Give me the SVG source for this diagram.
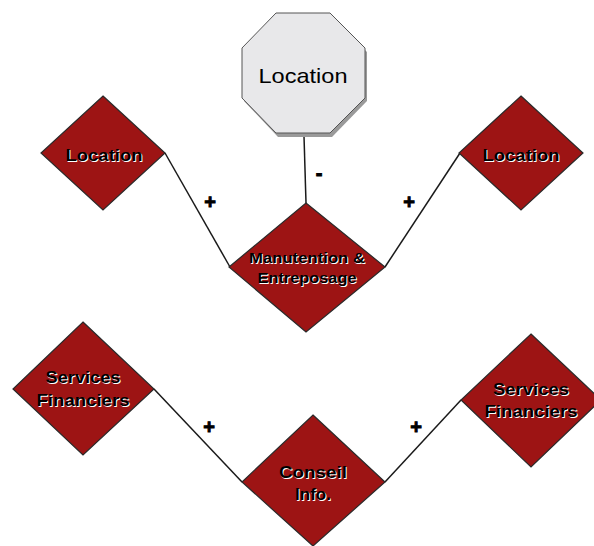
<svg xmlns="http://www.w3.org/2000/svg" width="594" height="546" viewBox="0 0 594 546">
<style>
.d{fill:#9d1414;stroke:#2a2a2a;stroke-width:1.2}
.t{font-family:"Liberation Sans",Arial,sans-serif;font-weight:bold;text-anchor:middle}
.tb{fill:#000}
.tw{fill:#fff}
.c{stroke:#1a1a1a;stroke-width:1.5;fill:none}
.s{font-family:"Liberation Sans",Arial,sans-serif;font-weight:bold;font-size:20px;text-anchor:middle;fill:#000;stroke:#000;stroke-width:0.9}
</style>
<rect width="594" height="546" fill="#fff"/>
<g id="connectors">
<line class="c" x1="165" y1="153" x2="230" y2="267"/>
<line class="c" x1="460" y1="153" x2="385" y2="267"/>
<line class="c" x1="304" y1="136" x2="306" y2="203"/>
<line class="c" x1="154" y1="389" x2="242" y2="482"/>
<line class="c" x1="461" y1="400" x2="385" y2="482"/>
<text class="s" x="210" y="209">+</text>
<text class="s" x="319" y="180">-</text>
<text class="s" x="409" y="209">+</text>
<text class="s" x="209" y="434">+</text>
<text class="s" x="416" y="434">+</text>
</g>
<g id="loc-top">
<polygon points="278,17 332,17 367,52 367,101 332,137 278,137 244,101 244,52" fill="#9a9a9a"/>
<polygon points="276,13 330,13 365,48 365,98 330,133 276,133 242,98 242,48" fill="#e8e8ea" stroke="#555" stroke-width="1"/>
<text x="303" y="83" font-family="Liberation Sans, Arial, sans-serif" font-size="21" text-anchor="middle" fill="#000" textLength="89" lengthAdjust="spacingAndGlyphs">Location</text>
</g>
<g id="loc-left">
<polygon class="d" points="103,96 165,153 103,210 41,153"/>
<text class="t tw" font-size="17" x="105" y="162" textLength="77" lengthAdjust="spacingAndGlyphs">Location</text>
<text class="t tb" font-size="17" x="104" y="161" textLength="77" lengthAdjust="spacingAndGlyphs">Location</text>
</g>
<g id="loc-right">
<polygon class="d" points="521,96 583,153 521,210 459,153"/>
<text class="t tw" font-size="17" x="522" y="162" textLength="77" lengthAdjust="spacingAndGlyphs">Location</text>
<text class="t tb" font-size="17" x="521" y="161" textLength="77" lengthAdjust="spacingAndGlyphs">Location</text>
</g>
<g id="manutention">
<polygon class="d" points="306,203 385,267 306,332 229,267"/>
<text class="t tw" font-size="15" x="308" y="264" textLength="116" lengthAdjust="spacingAndGlyphs">Manutention &amp;</text>
<text class="t tb" font-size="15" x="307" y="263" textLength="116" lengthAdjust="spacingAndGlyphs">Manutention &amp;</text>
<text class="t tw" font-size="15" x="308" y="284" textLength="99" lengthAdjust="spacingAndGlyphs">Entreposage</text>
<text class="t tb" font-size="15" x="307" y="283" textLength="99" lengthAdjust="spacingAndGlyphs">Entreposage</text>
</g>
<g id="sf-left">
<polygon class="d" points="83,322 154,389 83,455 13,389"/>
<text class="t tw" font-size="16.5" x="84" y="384" textLength="75" lengthAdjust="spacingAndGlyphs">Services</text>
<text class="t tb" font-size="16.5" x="83" y="383" textLength="75" lengthAdjust="spacingAndGlyphs">Services</text>
<text class="t tw" font-size="16.5" x="84" y="407" textLength="93" lengthAdjust="spacingAndGlyphs">Financiers</text>
<text class="t tb" font-size="16.5" x="83" y="406" textLength="93" lengthAdjust="spacingAndGlyphs">Financiers</text>
</g>
<g id="sf-right">
<polygon class="d" points="531,334 601,400 531,467 461,400"/>
<text class="t tw" font-size="16.5" x="532" y="396" textLength="76" lengthAdjust="spacingAndGlyphs">Services</text>
<text class="t tb" font-size="16.5" x="531" y="395" textLength="76" lengthAdjust="spacingAndGlyphs">Services</text>
<text class="t tw" font-size="16.5" x="532" y="418" textLength="93" lengthAdjust="spacingAndGlyphs">Financiers</text>
<text class="t tb" font-size="16.5" x="531" y="417" textLength="93" lengthAdjust="spacingAndGlyphs">Financiers</text>
</g>
<g id="conseil">
<polygon class="d" points="313,415 385,482 313,546 242,482"/>
<text class="t tw" font-size="17" x="314" y="479" textLength="68" lengthAdjust="spacingAndGlyphs">Conseil</text>
<text class="t tb" font-size="17" x="313" y="478" textLength="68" lengthAdjust="spacingAndGlyphs">Conseil</text>
<text class="t tw" font-size="17" x="314" y="501">Info.</text>
<text class="t tb" font-size="17" x="313" y="500">Info.</text>
</g>
</svg>
